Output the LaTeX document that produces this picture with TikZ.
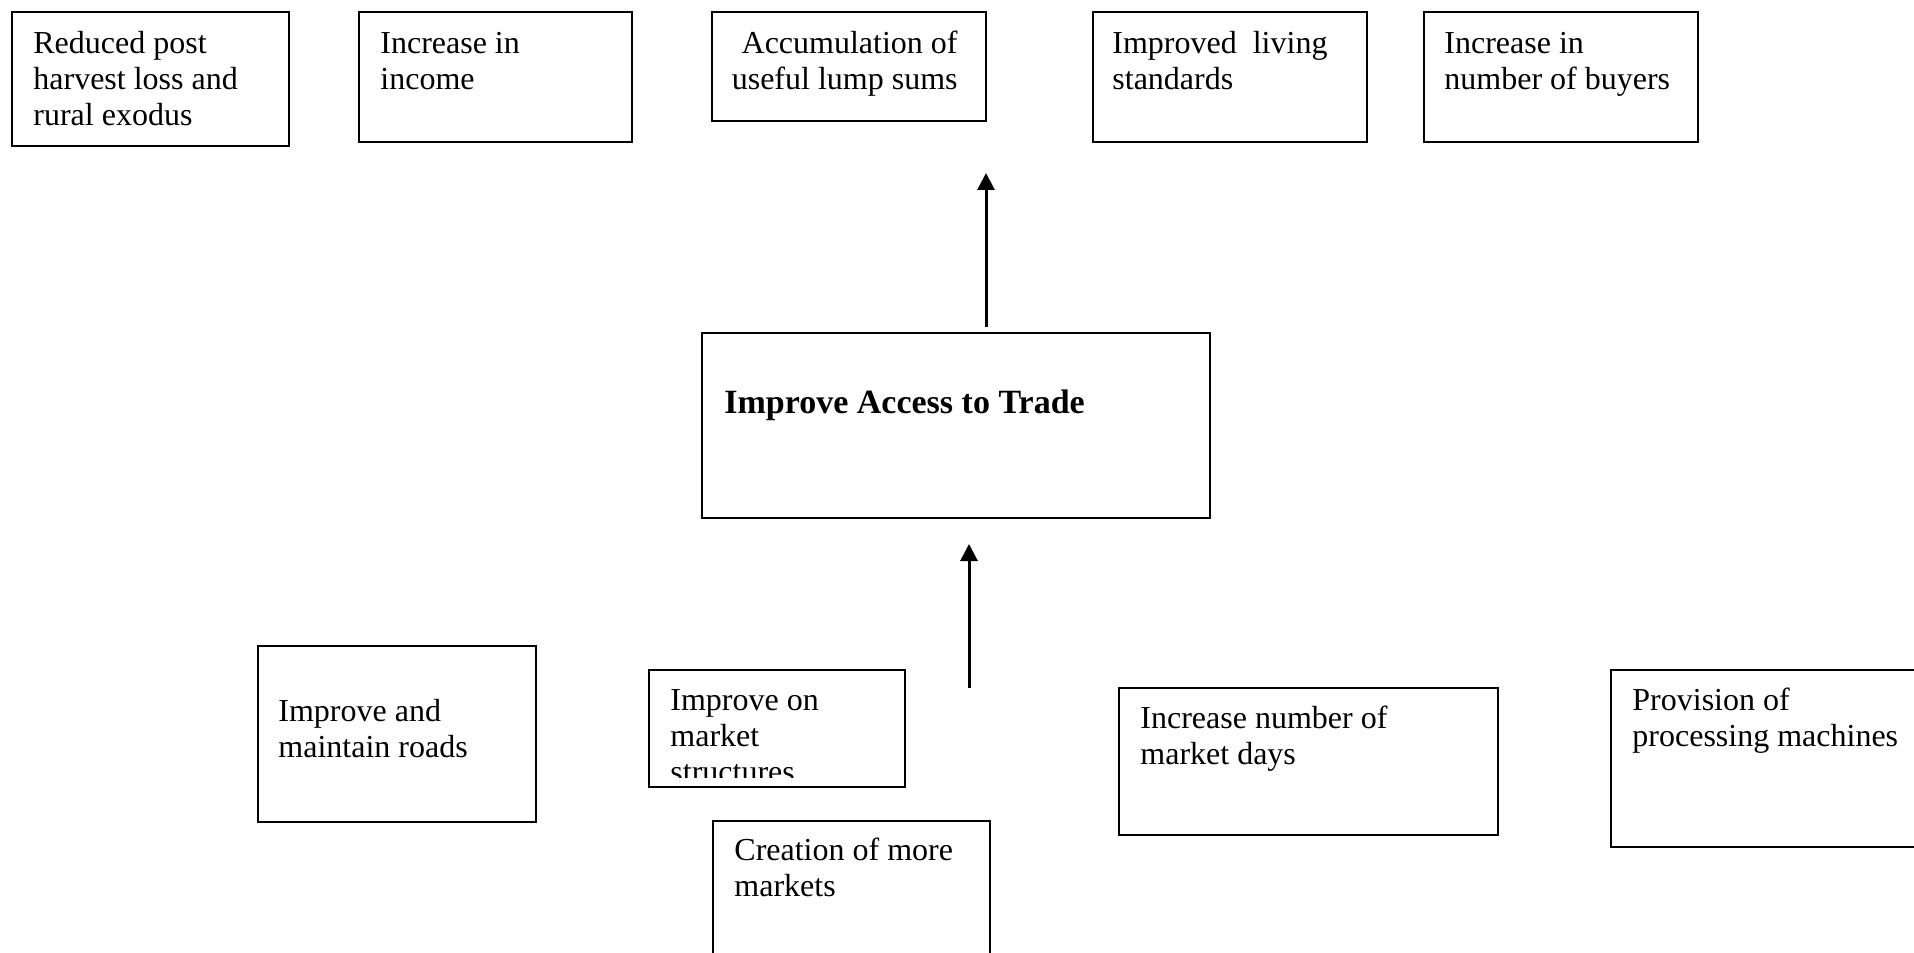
\documentclass[tikz,border=0pt]{standalone}
\usepackage{fontspec}
\setmainfont{Liberation Serif}
\usetikzlibrary{arrows.meta,fit}
\tikzset{
  box/.style={draw, rectangle, line width=0.9pt, inner sep=0pt},
  boxtext/.style={inner sep=0pt, anchor=base west, font=\fontsize{16}{18}\selectfont},
  boxtextr/.style={boxtext, anchor=base east},
  headtext/.style={inner sep=0pt, anchor=base west, font=\fontsize{17}{20}\selectfont\bfseries},
  flow/.style={line width=1.5pt, -{Triangle[length=8.5pt,width=8.5pt]}}
}
\newcommand{\lines}[1]{\parbox[t]{300pt}{\raggedright #1}}
\newcommand{\rlines}[1]{\parbox[t]{300pt}{\raggedleft #1}}
\begin{document}
\begin{tikzpicture}[x=0.5pt,y=-0.5pt]
  \useasboundingbox (0,0) rectangle (1914,952);
  \clip (0,0) rectangle (1914,952);

  % outcomes (top row)
  \node (out1) [box, fit={(12,12) (289,146)}] {};
  \node (out2) [box, fit={(359,12) (632,142)}] {};
  \node (out3) [box, fit={(712,12) (986,121)}] {};
  \node (out4) [box, fit={(1093,12) (1367,142)}] {};
  \node (out5) [box, fit={(1424,12) (1698,142)}] {};
  \node (out1t) [boxtext] at (33,54) {\lines{Reduced post\\harvest loss and\\rural exodus}};
  \node (out2t) [boxtext] at (380,54) {\lines{Increase in\\income}};
  \node (out3t) [boxtextr] at (958,54) {\rlines{Accumulation of\\useful lump sums}};
  \node (out4t) [boxtext] at (1112,54) {\lines{Improved\ \ living\\standards}};
  \node (out5t) [boxtext] at (1444,54) {\lines{Increase in\\number of buyers}};

  % central objective
  \node (goal) [box, fit={(702,333) (1210,518)}] {};
  \node (goalt) [headtext] at (724,413) {Improve Access to Trade};

  % activities (bottom row)
  \node (act1) [box, fit={(258,646) (536,822)}] {};
  \node (act2) [box, fit={(649,670) (905,787)}] {};
  \node (act3) [box, fit={(713,821) (990,1000)}] {};
  \node (act4) [box, fit={(1119,688) (1498,835)}] {};
  \node (act5) [box, fit={(1611,670) (1960,847)}] {};
  \node (act1t) [boxtext] at (278,721) {\lines{Improve and\\maintain roads}};
  \begin{scope}
    \clip (649,670) rectangle (905,777);
    \node (act2t) [boxtext] at (670,710) {\lines{Improve on\\market\\structures}};
  \end{scope}
  \node (act3t) [boxtext] at (734,860) {\lines{Creation of more\\markets}};
  \node (act4t) [boxtext] at (1140,728) {\lines{Increase number of\\market days}};
  \node (act5t) [boxtext] at (1632,710) {\lines{Provision of\\processing machines}};

  % arrows
  \coordinate (upfrom) at (986,327);
  \coordinate (upto) at (986,173);
  \coordinate (infrom) at (969,688);
  \coordinate (into) at (969,544);
  \draw[flow] (upfrom) -- (upto);
  \draw[flow] (infrom) -- (into);
\end{tikzpicture}
\end{document}
